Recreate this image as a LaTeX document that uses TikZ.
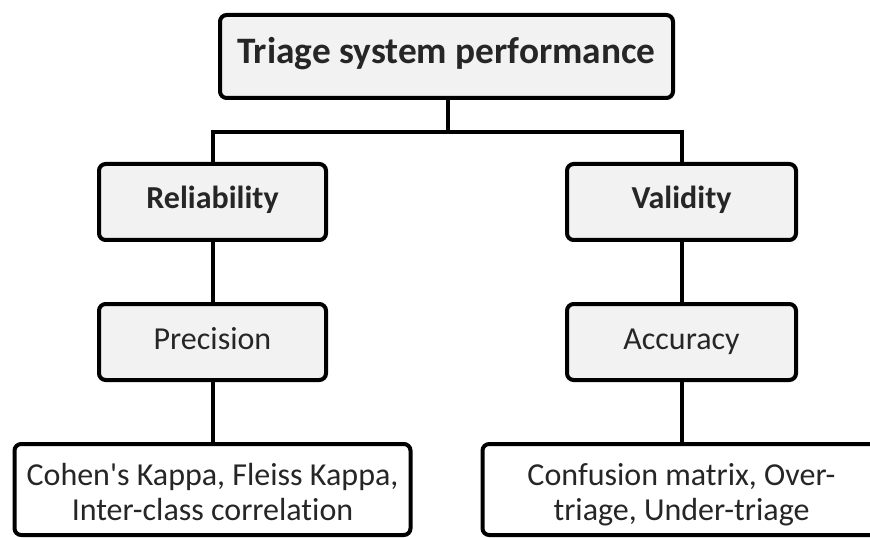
\documentclass[tikz,border=0pt]{standalone}
\usepackage{fontspec}
\newfontfamily\calfont{Carlito}[Ligatures=NoCommon]
\newcommand\twolines[2]{\raisebox{-5pt}[\height][\depth]{\begin{tabular}{@{}c@{}}#1\\#2\end{tabular}}}
\begin{document}
\begin{tikzpicture}[x=0.75pt,y=-0.75pt,
  box/.style={draw=black,line width=3pt,rounded corners=5pt,fill=#1,inner sep=0pt,align=center,text=black!85},
  box/.default={black!5},
  one/.style={text height=1.3em,text depth=0.25em},
  link/.style={draw=black,line width=3pt}]
\useasboundingbox (0,0) rectangle (870,538);
\clip (0,0) rectangle (870,538);
\node[box,one,minimum width=453*0.75pt,minimum height=83*0.75pt,font=\calfont\fontsize{28}{34}\selectfont\bfseries] (top) at (446.5,56.5) {Triage system performance};
\node[box,one,minimum width=227*0.75pt,minimum height=76*0.75pt,font=\calfont\fontsize{24}{28}\selectfont\bfseries] (rel) at (212.5,202) {Reliability};
\node[box,one,minimum width=229*0.75pt,minimum height=76*0.75pt,font=\calfont\fontsize{24}{28}\selectfont\bfseries] (val) at (681.5,202) {Validity};
\node[box,one,minimum width=227*0.75pt,minimum height=76*0.75pt,font=\calfont\fontsize{24}{28}\selectfont] (pre) at (212.5,342) {Precision};
\node[box,one,minimum width=229*0.75pt,minimum height=76*0.75pt,font=\calfont\fontsize{24}{28}\selectfont] (acc) at (681.5,342) {Accuracy};
\node[box=white,minimum width=396*0.75pt,minimum height=91*0.75pt,font=\calfont\fontsize{24}{26.25}\selectfont] (m1) at (212.5,489.5) {\twolines{Cohen's Kappa, Fleiss Kappa,}{Inter-class correlation}};
\node[box=white,minimum width=398*0.75pt,minimum height=91*0.75pt,font=\calfont\fontsize{24}{26.25}\selectfont] (m2) at (681.5,489.5) {\twolines{Confusion matrix, Over-}{triage, Under-triage}};
\coordinate (j) at (448,132);
\draw[link] (top.south -| j) -- (j);
\draw[link] (rel.north) |- (j) -| (val.north);
\draw[link] (rel) -- (pre);
\draw[link] (val) -- (acc);
\draw[link] (pre) -- (m1);
\draw[link] (acc) -- (m2);
\end{tikzpicture}
\end{document}
